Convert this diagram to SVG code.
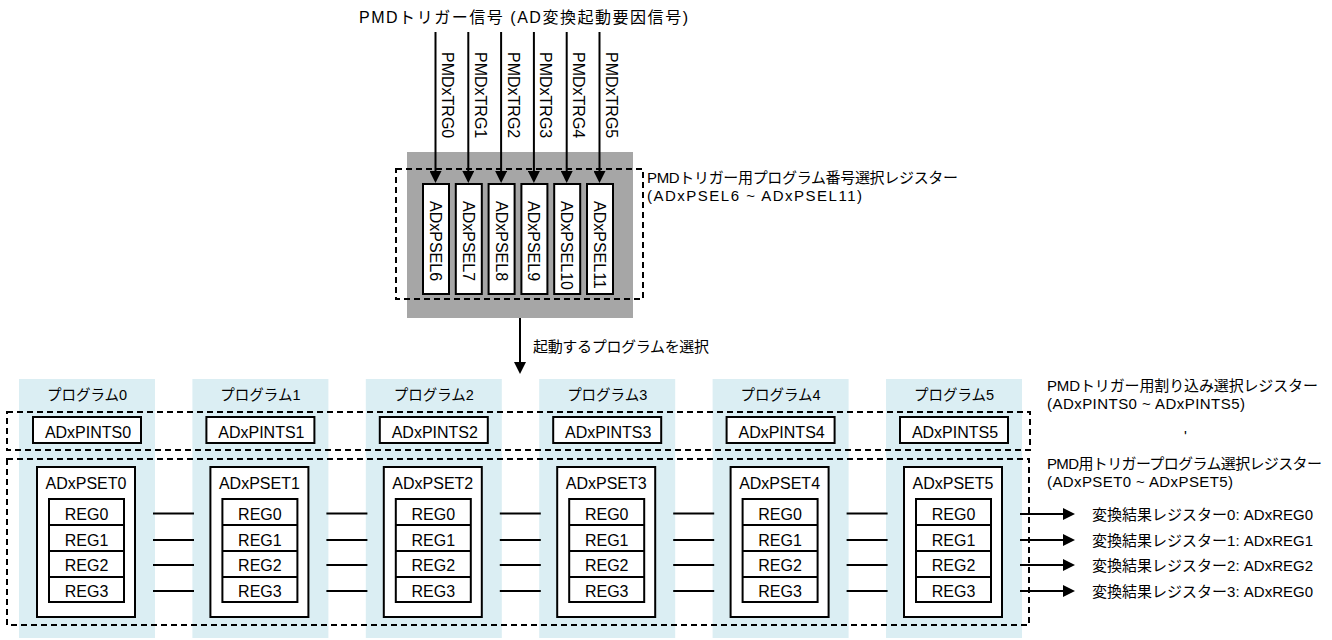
<svg xmlns="http://www.w3.org/2000/svg" width="1332" height="640" viewBox="0 0 1332 640">
<style>
text{font-family:"Liberation Sans","Noto Sans CJK JP",Arial,sans-serif;fill:#000}
.t16{font-size:16px}
.t15{font-size:15px}
.t14{font-size:14.5px}
.mid{text-anchor:middle}
.box{fill:#fff;stroke:#000;stroke-width:2}
.dash{fill:none;stroke:#000;stroke-width:2;stroke-dasharray:6 4}
.col{fill:#dbeef3}
.gray{fill:#a6a6a6}
.ln{stroke:#000;stroke-width:2;fill:none}
.arr{stroke:#000;stroke-width:2;fill:none;marker-end:url(#ah)}
</style>
<defs>
<marker id="ah" markerUnits="userSpaceOnUse" markerWidth="12" markerHeight="12" refX="0" refY="6" orient="auto">
<path d="M0,0 L12,6 L0,12 z" fill="#000"/>
</marker>
</defs>

<text class="t16" x="359" y="23" textLength="329" lengthAdjust="spacing">PMDトリガー信号 (AD変換起動要因信号)</text>

<g id="psel-block">
<rect class="gray" x="407" y="152" width="226" height="166"/>
<rect class="dash" x="396" y="169" width="247" height="130"/>
<text class="t15" x="647" y="183" textLength="311" lengthAdjust="spacing">PMDトリガー用プログラム番号選択レジスター</text>
<text class="t15" x="647" y="201" textLength="215" lengthAdjust="spacing">(ADxPSEL6 ~ ADxPSEL11)</text>
</g>
<g id="psel6"><rect class="box" x="423" y="184" width="26" height="110"/><text class="t16" transform="translate(430,201) rotate(90)">ADxPSEL6</text></g>
<g id="psel7"><rect class="box" x="455.8" y="184" width="26" height="110"/><text class="t16" transform="translate(462.8,201) rotate(90)">ADxPSEL7</text></g>
<g id="psel8"><rect class="box" x="488.6" y="184" width="26" height="110"/><text class="t16" transform="translate(495.6,201) rotate(90)">ADxPSEL8</text></g>
<g id="psel9"><rect class="box" x="521.4" y="184" width="26" height="110"/><text class="t16" transform="translate(528.4,201) rotate(90)">ADxPSEL9</text></g>
<g id="psel10"><rect class="box" x="554.2" y="184" width="26" height="110"/><text class="t16" transform="translate(561.2,201) rotate(90)">ADxPSEL10</text></g>
<g id="psel11"><rect class="box" x="587" y="184" width="26" height="110"/><text class="t16" transform="translate(594,201) rotate(90)">ADxPSEL11</text></g>

<g id="program-columns">
<rect class="col" x="19" y="379" width="136" height="259"/>
<rect class="col" x="192.4" y="379" width="136" height="259"/>
<rect class="col" x="365.8" y="379" width="136" height="259"/>
<rect class="col" x="539.2" y="379" width="136" height="259"/>
<rect class="col" x="712.6" y="379" width="136" height="259"/>
<rect class="col" x="886" y="379" width="136" height="259"/>
<text class="t14 mid" x="87" y="400">プログラム0</text>
<text class="t14 mid" x="260.4" y="400">プログラム1</text>
<text class="t14 mid" x="433.8" y="400">プログラム2</text>
<text class="t14 mid" x="607.2" y="400">プログラム3</text>
<text class="t14 mid" x="780.6" y="400">プログラム4</text>
<text class="t14 mid" x="954" y="400">プログラム5</text>
</g>

<g id="pints-group">
<rect class="dash" x="7" y="412" width="1023" height="38"/>
<text class="t15" x="1047" y="391" textLength="271" lengthAdjust="spacing">PMDトリガー用割り込み選択レジスター</text>
<text class="t15" x="1047" y="409" textLength="198" lengthAdjust="spacing">(ADxPINTS0 ~ ADxPINTS5)</text>
<text class="t15" x="1184" y="441">'</text>
</g>
<g id="pints0"><rect class="box" x="33" y="417" width="108" height="26"/><text class="t16 mid" x="88" y="438">ADxPINTS0</text></g>
<g id="pints1"><rect class="box" x="206.4" y="417" width="108" height="26"/><text class="t16 mid" x="261.4" y="438">ADxPINTS1</text></g>
<g id="pints2"><rect class="box" x="379.8" y="417" width="108" height="26"/><text class="t16 mid" x="434.8" y="438">ADxPINTS2</text></g>
<g id="pints3"><rect class="box" x="553.2" y="417" width="108" height="26"/><text class="t16 mid" x="608.2" y="438">ADxPINTS3</text></g>
<g id="pints4"><rect class="box" x="726.6" y="417" width="108" height="26"/><text class="t16 mid" x="781.6" y="438">ADxPINTS4</text></g>
<g id="pints5"><rect class="box" x="900" y="417" width="108" height="26"/><text class="t16 mid" x="955" y="438">ADxPINTS5</text></g>

<g id="pset-group">
<rect class="dash" x="7" y="459" width="1022" height="166"/>
<text class="t15" x="1047" y="469" textLength="275" lengthAdjust="spacing">PMD用トリガープログラム選択レジスター</text>
<text class="t15" x="1047" y="487" textLength="186" lengthAdjust="spacing">(ADxPSET0 ~ ADxPSET5)</text>
</g>

<g id="pset0">
<rect class="box" x="37" y="467" width="98" height="150"/>
<text class="t16 mid" x="86" y="489">ADxPSET0</text>
<rect class="box" x="49" y="499" width="75" height="103"/>
<path class="ln" d="M49,525H124M49,551H124M49,577H124"/>
<text class="t16 mid" x="86.5" y="520">REG0</text><text class="t16 mid" x="86.5" y="546">REG1</text><text class="t16 mid" x="86.5" y="571">REG2</text><text class="t16 mid" x="86.5" y="597">REG3</text>
</g>
<g id="pset1" transform="translate(173.4,0)">
<rect class="box" x="37" y="467" width="98" height="150"/>
<text class="t16 mid" x="86" y="489">ADxPSET1</text>
<rect class="box" x="49" y="499" width="75" height="103"/>
<path class="ln" d="M49,525H124M49,551H124M49,577H124"/>
<text class="t16 mid" x="86.5" y="520">REG0</text><text class="t16 mid" x="86.5" y="546">REG1</text><text class="t16 mid" x="86.5" y="571">REG2</text><text class="t16 mid" x="86.5" y="597">REG3</text>
</g>
<g id="pset2" transform="translate(346.8,0)">
<rect class="box" x="37" y="467" width="98" height="150"/>
<text class="t16 mid" x="86" y="489">ADxPSET2</text>
<rect class="box" x="49" y="499" width="75" height="103"/>
<path class="ln" d="M49,525H124M49,551H124M49,577H124"/>
<text class="t16 mid" x="86.5" y="520">REG0</text><text class="t16 mid" x="86.5" y="546">REG1</text><text class="t16 mid" x="86.5" y="571">REG2</text><text class="t16 mid" x="86.5" y="597">REG3</text>
</g>
<g id="pset3" transform="translate(520.2,0)">
<rect class="box" x="37" y="467" width="98" height="150"/>
<text class="t16 mid" x="86" y="489">ADxPSET3</text>
<rect class="box" x="49" y="499" width="75" height="103"/>
<path class="ln" d="M49,525H124M49,551H124M49,577H124"/>
<text class="t16 mid" x="86.5" y="520">REG0</text><text class="t16 mid" x="86.5" y="546">REG1</text><text class="t16 mid" x="86.5" y="571">REG2</text><text class="t16 mid" x="86.5" y="597">REG3</text>
</g>
<g id="pset4" transform="translate(693.6,0)">
<rect class="box" x="37" y="467" width="98" height="150"/>
<text class="t16 mid" x="86" y="489">ADxPSET4</text>
<rect class="box" x="49" y="499" width="75" height="103"/>
<path class="ln" d="M49,525H124M49,551H124M49,577H124"/>
<text class="t16 mid" x="86.5" y="520">REG0</text><text class="t16 mid" x="86.5" y="546">REG1</text><text class="t16 mid" x="86.5" y="571">REG2</text><text class="t16 mid" x="86.5" y="597">REG3</text>
</g>
<g id="pset5" transform="translate(867,0)">
<rect class="box" x="37" y="467" width="98" height="150"/>
<text class="t16 mid" x="86" y="489">ADxPSET5</text>
<rect class="box" x="49" y="499" width="75" height="103"/>
<path class="ln" d="M49,525H124M49,551H124M49,577H124"/>
<text class="t16 mid" x="86.5" y="520">REG0</text><text class="t16 mid" x="86.5" y="546">REG1</text><text class="t16 mid" x="86.5" y="571">REG2</text><text class="t16 mid" x="86.5" y="597">REG3</text>
</g>

<g id="results">
<text class="t15" x="1092" y="520" textLength="221" lengthAdjust="spacing">変換結果レジスター0: ADxREG0</text>
<text class="t15" x="1092" y="546" textLength="221" lengthAdjust="spacing">変換結果レジスター1: ADxREG1</text>
<text class="t15" x="1092" y="571" textLength="221" lengthAdjust="spacing">変換結果レジスター2: ADxREG2</text>
<text class="t15" x="1092" y="597" textLength="221" lengthAdjust="spacing">変換結果レジスター3: ADxREG0</text>
</g>

<g id="connectors">
<line class="arr" x1="435.5" y1="32" x2="435.5" y2="171"/>
<line class="arr" x1="468.3" y1="32" x2="468.3" y2="171"/>
<line class="arr" x1="501.1" y1="32" x2="501.1" y2="171"/>
<line class="arr" x1="533.9" y1="32" x2="533.9" y2="171"/>
<line class="arr" x1="566.7" y1="32" x2="566.7" y2="171"/>
<line class="arr" x1="599.5" y1="32" x2="599.5" y2="171"/>
<text class="t16" transform="translate(442,52) rotate(90)">PMDxTRG0</text>
<text class="t16" transform="translate(474.8,52) rotate(90)">PMDxTRG1</text>
<text class="t16" transform="translate(507.6,52) rotate(90)">PMDxTRG2</text>
<text class="t16" transform="translate(540.4,52) rotate(90)">PMDxTRG3</text>
<text class="t16" transform="translate(573.2,52) rotate(90)">PMDxTRG4</text>
<text class="t16" transform="translate(606,52) rotate(90)">PMDxTRG5</text>
<line class="arr" x1="520" y1="318" x2="520" y2="362"/>
<text class="t15" x="533" y="352" textLength="176" lengthAdjust="spacing">起動するプログラムを選択</text>
<path class="ln" d="M153,513.5H194M153,540H194M153,565H194M153,591H194"/>
<path class="ln" d="M326.4,513.5H367.4M326.4,540H367.4M326.4,565H367.4M326.4,591H367.4"/>
<path class="ln" d="M499.8,513.5H540.8M499.8,540H540.8M499.8,565H540.8M499.8,591H540.8"/>
<path class="ln" d="M673.2,513.5H714.2M673.2,540H714.2M673.2,565H714.2M673.2,591H714.2"/>
<path class="ln" d="M846.6,513.5H887.6M846.6,540H887.6M846.6,565H887.6M846.6,591H887.6"/>
<line class="arr" x1="1020" y1="514" x2="1063" y2="514"/>
<line class="arr" x1="1020" y1="540" x2="1063" y2="540"/>
<line class="arr" x1="1020" y1="565" x2="1063" y2="565"/>
<line class="arr" x1="1020" y1="591" x2="1063" y2="591"/>
</g>
</svg>
